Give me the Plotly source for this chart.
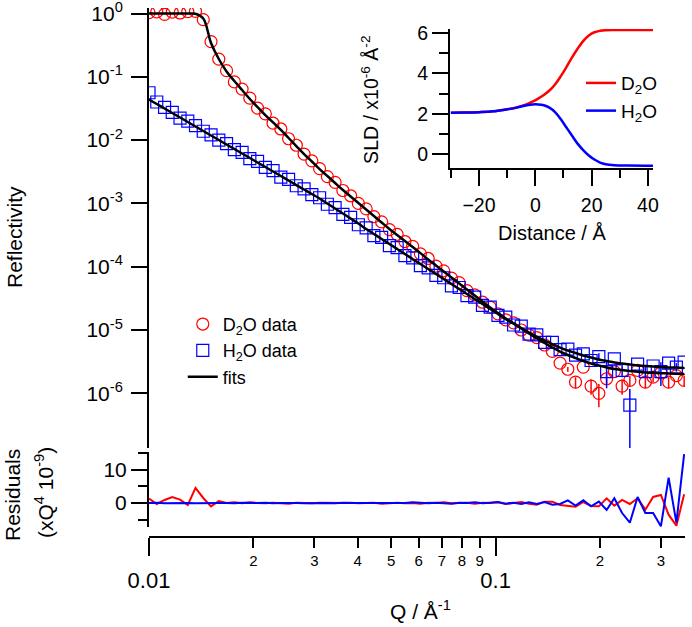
import math
import plotly.graph_objects as go

# ---------------- data ----------------
Q = [0.01000, 0.01053, 0.01109, 0.01167, 0.01229, 0.01294, 0.01362, 0.01434, 0.01510, 0.01590,
     0.01674, 0.01763, 0.01856, 0.01954, 0.02057, 0.02166, 0.02280, 0.02401, 0.02528, 0.02661,
     0.02802, 0.02950, 0.03106, 0.03271, 0.03443, 0.03626, 0.03817, 0.04019, 0.04232, 0.04455,
     0.04691, 0.04939, 0.05200, 0.05475, 0.05764, 0.06069, 0.06390, 0.06728, 0.07084, 0.07458,
     0.07852, 0.08268, 0.08705, 0.09165, 0.09650, 0.1016, 0.1070, 0.1127, 0.1186, 0.1249,
     0.1315, 0.1385, 0.1458, 0.1535, 0.1616, 0.1701, 0.1791, 0.1886, 0.1986, 0.2091,
     0.2201, 0.2318, 0.2440, 0.2569, 0.2705, 0.2848, 0.2999, 0.3157, 0.3324, 0.3500]

R_D2O = [1.03, 1.06, 0.97, 1.05, 1.02, 1.07, 1.08, 0.80, 0.36, 0.19,
         0.125, 0.083, 0.064, 0.046, 0.032, 0.026, 0.0185, 0.0150, 0.0105, 0.0083,
         0.0060, 0.0047, 0.00355, 0.00265, 0.00215, 0.00160, 0.00132, 0.00100, 0.00082, 0.00062,
         0.00051, 0.000385, 0.000325, 0.000250, 0.000210, 0.000160, 0.000135, 0.000102, 8.6e-5, 6.6e-5,
         5.6e-5, 4.2e-5, 3.6e-5, 2.75e-5, 2.3e-5, 1.8e-5, 1.45e-5, 1.3e-5, 1.0e-5, 8.3e-6,
         7.6e-6, 5.8e-6, 4.6e-6, 3.0e-6, 2.4e-6, 1.5e-6, 2.6e-6, 1.3e-6, 1.0e-6, 1.7e-6,
         2.2e-6, 1.3e-6, 1.6e-6, 2.3e-6, 1.5e-6, 1.8e-6, 2.1e-6, 1.5e-6, 1.9e-6, 1.6e-6]

R_H2O = [0.056, 0.040, 0.033, 0.0275, 0.0222, 0.0200, 0.0170, 0.0138, 0.0121, 0.0100,
         0.0088, 0.0071, 0.0064, 0.0051, 0.0046, 0.0037, 0.0033, 0.0026, 0.0024, 0.0019,
         0.00170, 0.00138, 0.00123, 0.00097, 0.00086, 0.00067, 0.00060, 0.00046, 0.00041, 0.00031,
         0.00029, 0.000215, 0.000200, 0.000150, 0.000138, 0.000104, 9.6e-5, 7.3e-5, 6.7e-5, 5.0e-5,
         4.7e-5, 3.5e-5, 3.3e-5, 2.45e-5, 2.3e-5, 1.7e-5, 1.6e-5, 1.2e-5, 1.15e-5, 8.6e-6,
         8.4e-6, 6.4e-6, 6.4e-6, 4.9e-6, 5.0e-6, 4.0e-6, 4.2e-6, 3.3e-6, 3.8e-6, 2.2e-6,
         3.5e-6, 2.3e-6, 6.5e-7, 2.9e-6, 2.2e-6, 2.7e-6, 2.2e-6, 3.0e-6, 2.6e-6, 3.1e-6]

ERR_D2O = [0.0] * 52 + [0, 0, 0.2e-6, 0.3e-6, 0, 0.35e-6, 0.4e-6, 0.3e-6, 0, 0.35e-6,
                        0.3e-6, 0, 0.3e-6, 0.3e-6, 0, 0.3e-6, 0, 0.3e-6]
ERR_H2O = [0.0] * 52 + [0, 0, 0, 0, 0, 0, 0.5e-6, 1.0e-6, 0, 0.5e-6,
                        5.2e-7, 0, 0.4e-6, 0, 0.9e-6, 0, 0.4e-6, 0]

FIT_D2O = [1.0, 1.0, 1.0, 1.0, 1.0, 1.0, 0.989, 0.834, 0.342, 0.191,
           0.121, 0.0859, 0.0618, 0.0446, 0.0333, 0.0249, 0.0190, 0.01445, 0.01080, 0.00807,
           0.00603, 0.00459, 0.00349, 0.00271, 0.00210, 0.00163, 0.00129, 0.001014, 0.000801, 0.000632,
           0.000499, 0.000394, 0.000317, 0.000255, 0.000205, 0.000164, 0.000130, 0.0001045, 8.40e-5, 6.75e-5,
           5.43e-5, 4.36e-5, 3.51e-5, 2.82e-5, 2.27e-5, 1.86e-5, 1.52e-5, 1.27e-5, 1.057e-5, 8.81e-6,
           7.34e-6, 6.24e-6, 5.29e-6, 4.57e-6, 4.03e-6, 3.61e-6, 3.24e-6, 2.96e-6, 2.75e-6, 2.56e-6,
           2.42e-6, 2.33e-6, 2.25e-6, 2.19e-6, 2.14e-6, 2.11e-6, 2.08e-6, 2.06e-6, 2.04e-6, 2.02e-6]

FIT_H2O = [0.0438, 0.0372, 0.0316, 0.0268, 0.0228, 0.0193, 0.0164, 0.01393, 0.01183, 0.01004,
           0.00852, 0.00723, 0.00614, 0.00521, 0.00443, 0.00376, 0.00319, 0.00271, 0.00230, 0.00195,
           0.00166, 0.00141, 0.001195, 0.000996, 0.000830, 0.000692, 0.000577, 0.000481, 0.000394, 0.000329,
           0.000274, 0.000229, 0.000191, 0.000159, 0.000132, 0.0001104, 9.20e-5, 7.67e-5, 6.40e-5, 5.33e-5,
           4.45e-5, 3.71e-5, 3.09e-5, 2.58e-5, 2.15e-5, 1.79e-5, 1.49e-5, 1.27e-5, 1.076e-5, 9.14e-6,
           7.89e-6, 6.83e-6, 6.01e-6, 5.29e-6, 4.75e-6, 4.33e-6, 3.95e-6, 3.68e-6, 3.42e-6, 3.24e-6,
           3.07e-6, 2.96e-6, 2.85e-6, 2.75e-6, 2.70e-6, 2.65e-6, 2.60e-6, 2.57e-6, 2.55e-6, 2.51e-6]

RES_D2O = [1.3, -0.3, 0.9, 1.8, 1.0, -0.6, 4.5, 1.5, -1.0, 0.6,
           0.0, 0.2, -0.1, 0.2, 0.0, -0.1, 0.1, 0.0, -0.2, 0.1,
           0.0, -0.1, 0.1, 0.0, -0.1, 0.0, 0.1, -0.1, 0.0, 0.1,
           -0.2, 0.0, 0.1, -0.1, 0.0, -0.2, 0.1, 0.0, 0.2, -0.1,
           0.0, 0.1, -0.2, 0.1, 0.0, 0.2, -0.3, 0.1, 0.3, -0.2,
           -0.5, 0.4, 0.4, -0.6, -0.8, -1.1, 0.3, -0.9, -1.0, 1.4,
           -0.8, 0.9, -0.3, 1.4, -2.0, 1.8, 2.4, -3.5, -6.8, 2.6]

RES_H2O = [0.0, 0.1, -0.1, 0.0, 0.1, 0.0, -0.1, 0.0, 0.1, 0.0,
           0.0, -0.1, 0.1, 0.0, 0.0, 0.1, -0.1, 0.0, 0.1, 0.0,
           -0.1, 0.0, 0.1, 0.0, -0.1, 0.1, 0.0, 0.0, -0.1, 0.1,
           0.0, 0.1, -0.1, 0.0, 0.2, 0.0, -0.1, 0.1, 0.0, -0.2,
           0.1, 0.0, 0.2, -0.1, 0.1, 0.3, -0.2, 0.1, -0.3, 0.2,
           -0.3, 0.3, -0.5, -0.3, 0.8, -0.8, 0.8, -1.0, 0.4, -2.1,
           1.4, -3.0, -5.9, 1.8, -3.0, -3.0, -7.0, 7.6, -5.9, 14.6]

DIST = [-30, -25, -20, -15, -10, -7, -5, -3, -1, 1, 3, 5, 7, 9, 11, 13, 15, 17, 19, 21, 23, 25, 28, 33, 42]
SLD_D2O = [2.05, 2.06, 2.08, 2.12, 2.22, 2.30, 2.38, 2.47, 2.60, 2.75, 2.93, 3.15, 3.45, 3.85, 4.30,
           4.78, 5.22, 5.60, 5.88, 6.04, 6.11, 6.14, 6.15, 6.15, 6.15]
SLD_H2O = [2.05, 2.06, 2.08, 2.12, 2.22, 2.29, 2.36, 2.42, 2.46, 2.46, 2.42, 2.30, 2.08, 1.74, 1.33,
           0.92, 0.52, 0.20, -0.07, -0.27, -0.42, -0.50, -0.55, -0.57, -0.58]

REFL_TICKS = [1, 1e-1, 1e-2, 1e-3, 1e-4, 1e-5, 1e-6]
REFL_TICKTEXT = ["10<sup>0</sup>", "10<sup>-1</sup>", "10<sup>-2</sup>", "10<sup>-3</sup>",
                 "10<sup>-4</sup>", "10<sup>-5</sup>", "10<sup>-6</sup>"]
Q_MINOR_TICKS = [0.02, 0.03, 0.04, 0.05, 0.06, 0.07, 0.08, 0.09, 0.2, 0.3]
Q_MINOR_TEXT = ["2", "3", "4", "5", "6", "7", "8", "9", "2", "3"]
Q_MAJOR_TICKS = [0.01, 0.1]
Q_MAJOR_TEXT = ["0.01", "0.1"]

RED = "#ff0000"
BLUE = "#0000ff"
FONT = "Arial, Liberation Sans, sans-serif"
QRANGE = [math.log10(0.01), math.log10(0.352)]

fig = go.Figure()

fig.add_trace(go.Scatter(x=Q, y=R_D2O, mode="markers", name="D<sub>2</sub>O data",
                         marker=dict(symbol="circle-open", size=12, color=RED, line=dict(width=1.2)),
                         error_y=dict(type="data", array=ERR_D2O, color=RED, thickness=1.5, width=0),
                         xaxis="x", yaxis="y"))
fig.add_trace(go.Scatter(x=Q, y=R_H2O, mode="markers", name="H<sub>2</sub>O data",
                         marker=dict(symbol="square-open", size=12, color=BLUE, line=dict(width=1.2)),
                         error_y=dict(type="data", array=ERR_H2O, color=BLUE, thickness=1.5, width=0),
                         xaxis="x", yaxis="y"))
fig.add_trace(go.Scatter(x=Q, y=FIT_D2O, mode="lines", name="fits", legendgroup="fits",
                         line=dict(color="black", width=2.5, shape="spline"), xaxis="x", yaxis="y"))
fig.add_trace(go.Scatter(x=Q, y=FIT_H2O, mode="lines", name="fits", legendgroup="fits", showlegend=False,
                         line=dict(color="black", width=2.5, shape="spline"), xaxis="x", yaxis="y"))

fig.add_trace(go.Scatter(x=Q, y=RES_D2O, mode="lines", showlegend=False,
                         line=dict(color=RED, width=2), xaxis="x2", yaxis="y2"))
fig.add_trace(go.Scatter(x=Q, y=RES_H2O, mode="lines", showlegend=False,
                         line=dict(color=BLUE, width=2), xaxis="x2", yaxis="y2"))
fig.add_trace(go.Scatter(x=[0.05], y=[0], mode="markers", showlegend=False, hoverinfo="skip",
                         marker=dict(opacity=0), xaxis="x4", yaxis="y2"))

fig.add_trace(go.Scatter(x=DIST, y=SLD_D2O, mode="lines", name="D<sub>2</sub>O", legend="legend2",
                         line=dict(color=RED, width=2.5, shape="spline"), xaxis="x3", yaxis="y3"))
fig.add_trace(go.Scatter(x=DIST, y=SLD_H2O, mode="lines", name="H<sub>2</sub>O", legend="legend2",
                         line=dict(color=BLUE, width=2.5, shape="spline"), xaxis="x3", yaxis="y3"))

axis_common = dict(showline=True, linecolor="black", linewidth=2, ticks="outside", tickcolor="black",
                   tickwidth=2, showgrid=False, zeroline=False, automargin=False,
                   ticklabeloverflow="allow")


def label(text, x, y, size, angle=0):
    return dict(text=text, x=x, y=y, xref="paper", yref="paper", textangle=angle,
                xanchor="center", yanchor="middle", showarrow=False, font=dict(size=size))


fig.update_layout(
    width=692, height=627,
    margin=dict(l=149, r=7, t=8, b=90, autoexpand=False),
    paper_bgcolor="white", plot_bgcolor="white",
    font=dict(family=FONT, color="black"),
    xaxis=dict(domain=[0, 1], type="log", range=QRANGE, visible=False, anchor="y", automargin=False),
    yaxis=dict(domain=[0.1682, 1], type="log", range=[-6.864, 0.087], anchor="x",
               tickvals=REFL_TICKS, ticktext=REFL_TICKTEXT, ticklen=16, tickfont=dict(size=21),
               ticklabelstandoff=4, **axis_common),
    xaxis2=dict(domain=[0, 1], type="log", range=QRANGE, anchor="free", position=0,
                tickvals=Q_MINOR_TICKS, ticktext=Q_MINOR_TEXT, ticklen=10, tickfont=dict(size=15),
                **axis_common),
    xaxis4=dict(type="log", range=QRANGE, overlaying="x2", anchor="free", position=0,
                tickvals=Q_MAJOR_TICKS, ticktext=Q_MAJOR_TEXT, ticks="outside", ticklen=18, tickwidth=2,
                tickcolor="black", tickfont=dict(size=22), showline=False, showgrid=False, zeroline=False,
                ticklabelstandoff=6, automargin=False, ticklabeloverflow="allow"),
    yaxis2=dict(domain=[0.0189, 0.1607], range=[-7.19, 15.27], anchor="x2",
                tickvals=[0, 10], ticktext=["0", "10"], ticklen=16, tickfont=dict(size=21),
                minor=dict(tickvals=[-5, 5, 15], ticklen=9, tickwidth=2, tickcolor="black", ticks="outside"),
                **axis_common),
    xaxis3=dict(domain=[0.5616, 0.9403], range=[-30.3, 41.8], anchor="y3",
                tickvals=[-20, 0, 20, 40], ticklen=16, tickfont=dict(size=19.5), ticklabelstandoff=3,
                minor=dict(tickvals=[-30, -10, 10, 30], ticklen=8, tickwidth=2, tickcolor="black", ticks="outside"),
                **axis_common),
    yaxis3=dict(domain=[0.6975, 0.9603], range=[-0.69, 6.2], anchor="x3",
                tickvals=[0, 2, 4, 6], ticklen=16, tickfont=dict(size=19.5),
                minor=dict(tickvals=[1, 3, 5], ticklen=9, tickwidth=2, tickcolor="black", ticks="outside"),
                **axis_common),
    legend=dict(x=0.063, y=0.437, xanchor="left", yanchor="top", font=dict(size=18),
                bgcolor="rgba(0,0,0,0)", tracegroupgap=0),
    legend2=dict(x=0.806, y=0.894, xanchor="left", yanchor="top", font=dict(size=19),
                 bgcolor="rgba(0,0,0,0)", tracegroupgap=0),
    annotations=[
        label("Reflectivity", -0.252, 0.567, 21, -90),
        label("Residuals", -0.256, 0.079, 21, -90),
        label("(xQ<sup>4</sup> 10<sup>-9</sup>)", -0.196, 0.085, 21, -90),
        label("Q / Å<sup>-1</sup>", 0.5056, -0.138, 21),
        label("SLD / x10<sup>-6</sup> Å<sup>-2</sup>", 0.412, 0.826, 19.5, -90),
        label("Distance / Å", 0.752, 0.5747, 20),
    ],
)

fig.write_html("out.html", config={"displayModeBar": False},
               post_script="document.body.style.margin='0px';")
